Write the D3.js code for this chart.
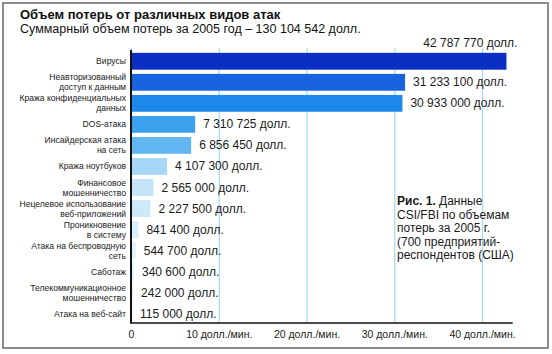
<!DOCTYPE html>
<html>
<head>
<meta charset="utf-8">
<script src="https://cdn.jsdelivr.net/npm/d3@7"></script>
<style>
  body { margin: 0; background: #fff; }
  text { font-family: "Liberation Sans", Arial, sans-serif; }
</style>
</head>
<body>
<svg></svg>
<script>
let width = 552;
let height = 354;

let categories = [
  ["Вирусы"],
  ["Неавторизованный", "доступ к данным"],
  ["Кража конфиденциальных", "данных"],
  ["DOS-атака"],
  ["Инсайдерская атака", "на сеть"],
  ["Кража ноутбуков"],
  ["Финансовое", "мошенничество"],
  ["Нецелевое использование", "веб-приложений"],
  ["Проникновение", "в систему"],
  ["Атака на беспроводную", "сеть"],
  ["Саботаж"],
  ["Телекоммуникационное", "мошенничество"],
  ["Атака на веб-сайт"]
];
let losses = [42787770, 31233100, 30933000, 7310725, 6856450, 4107300, 2565000,
  2227500, 841400, 544700, 340600, 242000, 115000];
let barColors = ["#0b2fc2", "#1763e0", "#1b88ea", "#3ba2ef", "#62b7f3", "#a7d7f6",
  "#c3e3f8", "#cce8f9", "#d6edfa", "#dff1fb", "#e2f3fb", "#e4f4fb", "#e6f5fc"];
let ticks = [0, 10, 20, 30, 40];
let tickLabels = ["0", "10 долл./мин.", "20 долл./мин.", "30 долл./мин.", "40 долл./мин."];
let noteLines = [
  ["Рис. 1.", " Данные"],
  ["", "CSI/FBI по объемам"],
  ["", "потерь за 2005 г."],
  ["", "(700 предприятий-"],
  ["", "респондентов (США)"]
];

let svg = d3.select("svg").attr("width", width).attr("height", height);

// frame
svg.append("rect")
  .attr("x", 3).attr("y", 3).attr("width", 545).attr("height", 345)
  .attr("fill", "#fff").attr("stroke", "#8c8c8c").attr("stroke-width", 2);

svg.append("text")
  .attr("x", 20).attr("y", 19)
  .attr("font-size", 13).attr("font-weight", "bold").attr("fill", "#111")
  .text("Объем потерь от различных видов атак");

svg.append("text")
  .attr("x", 20).attr("y", 33)
  .attr("font-size", 12.5).attr("fill", "#111")
  .text("Суммарный объем потерь за 2005 год – 130 104 542 долл.");

let plotLeft = 131;
let plotBottom = 323;
let plotTop = 48;

let xScale = d3.scaleLinear().domain([0, 43.5]).range([plotLeft, plotLeft + 43.5 * 8.775]);
let yScale = d3.scaleBand()
  .domain(d3.range(categories.length))
  .range([52, plotBottom])
  .paddingInner(0.2)
  .paddingOuter(0.04);

// gridlines + tick labels
let xAxis = d3.axisBottom(xScale)
  .tickValues(ticks)
  .tickSize(-(plotBottom - plotTop))
  .tickPadding(8)
  .tickFormat((d, i) => tickLabels[i]);

let gx = svg.append("g")
  .attr("id", "x-axis")
  .attr("transform", `translate(0, ${plotBottom})`)
  .call(xAxis);
gx.select(".domain").remove();
gx.selectAll(".tick line").attr("stroke", "#a9dcef").attr("stroke-width", 1.3);
gx.selectAll(".tick text")
  .attr("font-family", "Liberation Sans, Arial, sans-serif")
  .attr("font-size", 10.5).attr("fill", "#222");

let fmt = (v) => d3.format(",")(v).replace(/,/g, " ") + " долл.";

svg.selectAll("rect.bar")
  .data(losses)
  .enter()
  .append("rect")
  .attr("class", "bar")
  .attr("x", xScale(0))
  .attr("y", (d, i) => yScale(i))
  .attr("width", (d) => xScale(d / 1e6) - xScale(0))
  .attr("height", yScale.bandwidth())
  .attr("fill", (d, i) => barColors[i]);

svg.selectAll("text.value")
  .data(losses)
  .enter()
  .append("text")
  .attr("class", "value")
  .attr("font-size", 12)
  .attr("fill", "#1a1a1a")
  .attr("x", (d, i) => i === 0 ? xScale(d / 1e6) + 11 : xScale(d / 1e6) + 8)
  .attr("y", (d, i) => i === 0 ? yScale(i) - 6 : yScale(i) + yScale.bandwidth() / 2 + 4)
  .attr("text-anchor", (d, i) => i === 0 ? "end" : "start")
  .text((d) => fmt(d));

// category labels
let catG = svg.append("g");
categories.forEach((lines, i) => {
  let cy = yScale(i) + yScale.bandwidth() / 2;
  let t = catG.append("text")
    .attr("text-anchor", "end")
    .attr("font-size", 8.6)
    .attr("fill", "#222");
  lines.forEach((line, j) => {
    t.append("tspan")
      .attr("x", plotLeft - 5)
      .attr("y", cy + 3 + (j - (lines.length - 1) / 2) * 10)
      .text(line);
  });
});

// axes lines
svg.append("line")
  .attr("x1", plotLeft).attr("x2", plotLeft)
  .attr("y1", plotTop + 2).attr("y2", plotBottom)
  .attr("stroke", "#111").attr("stroke-width", 2);
svg.append("line")
  .attr("x1", plotLeft - 1).attr("x2", xScale(43.5))
  .attr("y1", plotBottom).attr("y2", plotBottom)
  .attr("stroke", "#111").attr("stroke-width", 1.6);

// note
let note = svg.append("text").attr("font-size", 12).attr("fill", "#1a1a1a");
noteLines.forEach((parts, i) => {
  let tl = note.append("tspan").attr("x", 397).attr("y", 205 + i * 13.5);
  if (parts[0]) {
    tl.text(parts[0]).attr("font-weight", "bold");
    note.append("tspan").text(parts[1]);
  } else {
    tl.text(parts[1]);
  }
});
</script>
</body>
</html>
